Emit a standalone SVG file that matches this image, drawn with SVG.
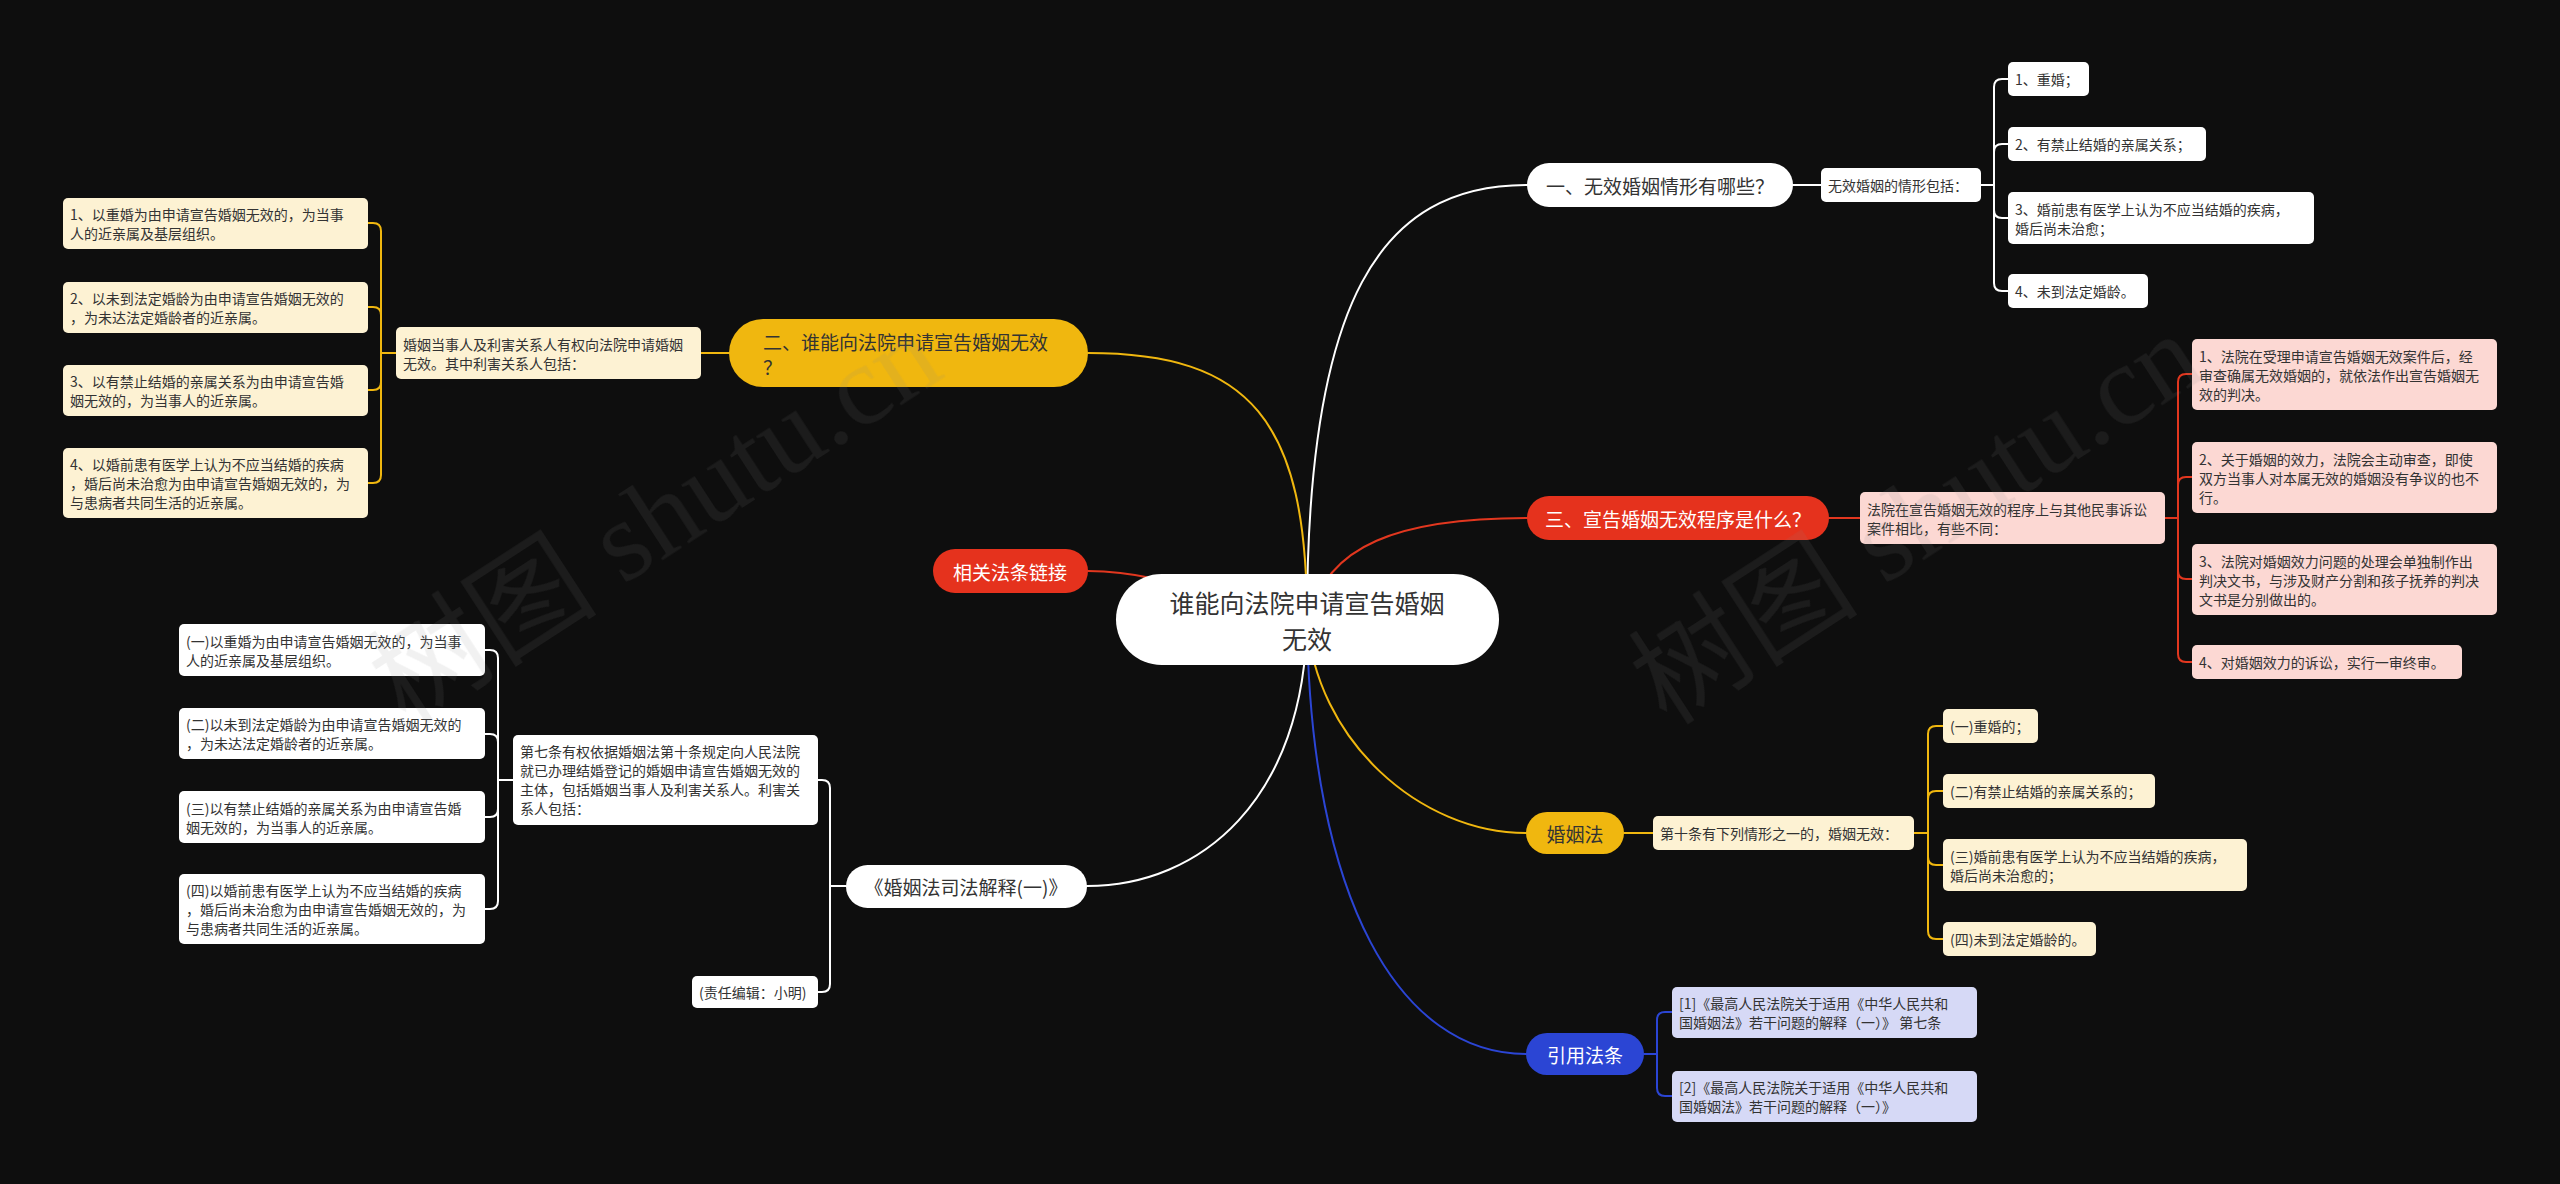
<svg xmlns="http://www.w3.org/2000/svg" width="2560" height="1184" viewBox="0 0 2560 1184">
<style>
.t{font-family:"Noto Sans CJK SC","Noto Sans",sans-serif;}
.s{font-size:14px;fill:#333;dominant-baseline:central;}
.p{font-size:19px;dominant-baseline:central;text-anchor:middle;}
.dk{fill:#333;}
.wt{fill:#ffffff;}
.c{fill:none;stroke-width:2;stroke-linecap:round;}
.cw{stroke:#ffffff;}
.cy{stroke:#f0b70f;}
.cr{stroke:#e2371f;}
.cb{stroke:#2b45d4;}
.nw{fill:#ffffff;}
.ny{fill:#f0b70f;}
.nr{fill:#e5321d;}
.nb{fill:#2b45d4;}
.cream{fill:#fdf2d3;}
.pink{fill:#fcd8d3;}
.lav{fill:#d6d9f6;}
</style>
<rect x="0" y="0" width="2560" height="1184" fill="#0e0e0e"/>

<g id="connectors">
  <!-- main branches -->
  <path class="c cw" d="M1307,619 C1307,300 1380,185 1527,185"/>
  <path class="c cy" d="M1307,619 C1307,420 1250,353 1088,353"/>
  <path class="c cr" d="M1310,619 C1325,545 1400,518 1527,518"/>
  <path class="c cr" d="M1307,619 C1220,600 1160,571 1088,571"/>
  <path class="c cy" d="M1307,619 C1315,740 1420,833 1526,833"/>
  <path class="c cb" d="M1307,619 C1310,900 1400,1054 1526,1054"/>
  <path class="c cw" d="M1307,619 C1305,800 1200,886 1087,886"/>

  <!-- branch 一 -->
  <path class="c cw" d="M1793,185 H1821"/>
  <path class="c cw" d="M1981,185 H1994"/>
  <path class="c cw" d="M1994,185 V87 Q1994,79 2002,79 H2008"/>
  <path class="c cw" d="M1994,185 V152 Q1994,144 2002,144 H2008"/>
  <path class="c cw" d="M1994,185 V210 Q1994,218 2002,218 H2008"/>
  <path class="c cw" d="M1994,185 V283 Q1994,291 2002,291 H2008"/>

  <!-- branch 三 -->
  <path class="c cr" d="M1829,518 H1860"/>
  <path class="c cr" d="M2165,518 H2178"/>
  <path class="c cr" d="M2178,518 V382 Q2178,374 2186,374 H2192"/>
  <path class="c cr" d="M2178,518 V485 Q2178,477 2186,477 H2192"/>
  <path class="c cr" d="M2178,518 V571 Q2178,579 2186,579 H2192"/>
  <path class="c cr" d="M2178,518 V654 Q2178,662 2186,662 H2192"/>

  <!-- branch 婚姻法 -->
  <path class="c cy" d="M1624,833 H1653"/>
  <path class="c cy" d="M1914,833 H1928"/>
  <path class="c cy" d="M1928,833 V734 Q1928,726 1936,726 H1943"/>
  <path class="c cy" d="M1928,833 V799 Q1928,791 1936,791 H1943"/>
  <path class="c cy" d="M1928,833 V857 Q1928,865 1936,865 H1943"/>
  <path class="c cy" d="M1928,833 V931 Q1928,939 1936,939 H1943"/>

  <!-- branch 引用法条 -->
  <path class="c cb" d="M1644,1054 H1657"/>
  <path class="c cb" d="M1657,1054 V1020 Q1657,1012 1665,1012 H1672"/>
  <path class="c cb" d="M1657,1054 V1088 Q1657,1096 1665,1096 H1672"/>

  <!-- branch 二 -->
  <path class="c cy" d="M729,353 H701"/>
  <path class="c cy" d="M396,353 H381"/>
  <path class="c cy" d="M381,353 V231 Q381,223 373,223 H368"/>
  <path class="c cy" d="M381,353 V315 Q381,307 373,307 H368"/>
  <path class="c cy" d="M381,353 V382 Q381,390 373,390 H368"/>
  <path class="c cy" d="M381,353 V475 Q381,483 373,483 H368"/>

  <!-- branch 婚姻法司法解释 -->
  <path class="c cw" d="M846,886 H830"/>
  <path class="c cw" d="M830,886 V788 Q830,780 822,780 H818"/>
  <path class="c cw" d="M830,886 V984 Q830,992 822,992 H818"/>
  <path class="c cw" d="M513,780 H498"/>
  <path class="c cw" d="M498,780 V658 Q498,650 490,650 H485"/>
  <path class="c cw" d="M498,780 V742 Q498,734 490,734 H485"/>
  <path class="c cw" d="M498,780 V809 Q498,817 490,817 H485"/>
  <path class="c cw" d="M498,780 V901 Q498,909 490,909 H485"/>
</g>

<g id="root" class="t">
  <rect class="nw" x="1116" y="574" width="383" height="91" rx="45.5"/>
  <text x="1307" y="602" style="font-size:25px;dominant-baseline:central;text-anchor:middle" class="dk">谁能向法院申请宣告婚姻</text>
  <text x="1307" y="638" style="font-size:25px;dominant-baseline:central;text-anchor:middle" class="dk">无效</text>
</g>

<g id="n-yi" class="t">
  <rect class="nw" x="1527" y="163" width="266" height="44" rx="22"/>
  <text class="p dk" x="1660" y="185">一、无效婚姻情形有哪些？</text>
</g>
<g id="n-yi-0" class="t">
  <rect class="nw" x="1821" y="168" width="160" height="34" rx="5"/>
  <text class="s" x="1828" y="185">无效婚姻的情形包括：</text>
</g>
<g id="n-yi-1" class="t">
  <rect class="nw" x="2008" y="62" width="81" height="34" rx="5"/>
  <text class="s" x="2015" y="79">1、重婚；</text>
</g>
<g id="n-yi-2" class="t">
  <rect class="nw" x="2008" y="127" width="198" height="34" rx="5"/>
  <text class="s" x="2015" y="144">2、有禁止结婚的亲属关系；</text>
</g>
<g id="n-yi-3" class="t">
  <rect class="nw" x="2008" y="192" width="306" height="52" rx="5"/>
  <text class="s" x="2015" y="208.5">3、婚前患有医学上认为不应当结婚的疾病，</text>
  <text class="s" x="2015" y="227.5">婚后尚未治愈；</text>
</g>
<g id="n-yi-4" class="t">
  <rect class="nw" x="2008" y="274" width="140" height="34" rx="5"/>
  <text class="s" x="2015" y="291">4、未到法定婚龄。</text>
</g>

<g id="n-san" class="t">
  <rect class="nr" x="1527" y="496" width="302" height="44" rx="22"/>
  <text class="p wt" x="1678" y="518">三、宣告婚姻无效程序是什么？</text>
</g>
<g id="n-san-0" class="t">
  <rect class="pink" x="1860" y="492" width="305" height="52" rx="5"/>
  <text class="s" x="1867" y="508.5">法院在宣告婚姻无效的程序上与其他民事诉讼</text>
  <text class="s" x="1867" y="527.5">案件相比，有些不同：</text>
</g>
<g id="n-san-1" class="t">
  <rect class="pink" x="2192" y="339" width="305" height="71" rx="5"/>
  <text class="s" x="2199" y="355.5">1、法院在受理申请宣告婚姻无效案件后，经</text>
  <text class="s" x="2199" y="374.5">审查确属无效婚姻的，就依法作出宣告婚姻无</text>
  <text class="s" x="2199" y="393.5">效的判决。</text>
</g>
<g id="n-san-2" class="t">
  <rect class="pink" x="2192" y="442" width="305" height="71" rx="5"/>
  <text class="s" x="2199" y="458.5">2、关于婚姻的效力，法院会主动审查，即使</text>
  <text class="s" x="2199" y="477.5">双方当事人对本属无效的婚姻没有争议的也不</text>
  <text class="s" x="2199" y="496.5">行。</text>
</g>
<g id="n-san-3" class="t">
  <rect class="pink" x="2192" y="544" width="305" height="71" rx="5"/>
  <text class="s" x="2199" y="560.5">3、法院对婚姻效力问题的处理会单独制作出</text>
  <text class="s" x="2199" y="579.5">判决文书，与涉及财产分割和孩子抚养的判决</text>
  <text class="s" x="2199" y="598.5">文书是分别做出的。</text>
</g>
<g id="n-san-4" class="t">
  <rect class="pink" x="2192" y="645" width="270" height="34" rx="5"/>
  <text class="s" x="2199" y="662">4、对婚姻效力的诉讼，实行一审终审。</text>
</g>

<g id="n-hyf" class="t">
  <rect class="ny" x="1526" y="812" width="98" height="42" rx="21"/>
  <text class="p dk" x="1575" y="833">婚姻法</text>
</g>
<g id="n-hyf-0" class="t">
  <rect class="cream" x="1653" y="816" width="261" height="34" rx="5"/>
  <text class="s" x="1660" y="833">第十条有下列情形之一的，婚姻无效：</text>
</g>
<g id="n-hyf-1" class="t">
  <rect class="cream" x="1943" y="709" width="95" height="34" rx="5"/>
  <text class="s" x="1950" y="726">(一)重婚的；</text>
</g>
<g id="n-hyf-2" class="t">
  <rect class="cream" x="1943" y="774" width="212" height="34" rx="5"/>
  <text class="s" x="1950" y="791">(二)有禁止结婚的亲属关系的；</text>
</g>
<g id="n-hyf-3" class="t">
  <rect class="cream" x="1943" y="839" width="304" height="52" rx="5"/>
  <text class="s" x="1950" y="855.5">(三)婚前患有医学上认为不应当结婚的疾病，</text>
  <text class="s" x="1950" y="874.5">婚后尚未治愈的；</text>
</g>
<g id="n-hyf-4" class="t">
  <rect class="cream" x="1943" y="922" width="153" height="34" rx="5"/>
  <text class="s" x="1950" y="939">(四)未到法定婚龄的。</text>
</g>

<g id="n-yyft" class="t">
  <rect class="nb" x="1526" y="1033" width="118" height="42" rx="21"/>
  <text class="p wt" x="1585" y="1054">引用法条</text>
</g>
<g id="n-yyft-1" class="t">
  <rect class="lav" x="1672" y="987" width="305" height="51" rx="5"/>
  <text class="s" x="1679" y="1003">[1]《最高人民法院关于适用《中华人民共和</text>
  <text class="s" x="1679" y="1022">国婚姻法》若干问题的解释（一）》 第七条</text>
</g>
<g id="n-yyft-2" class="t">
  <rect class="lav" x="1672" y="1071" width="305" height="51" rx="5"/>
  <text class="s" x="1679" y="1086.5">[2]《最高人民法院关于适用《中华人民共和</text>
  <text class="s" x="1679" y="1105.5">国婚姻法》若干问题的解释（一）》</text>
</g>

<g id="n-er" class="t">
  <rect class="ny" x="729" y="319" width="359" height="68" rx="34"/>
  <text x="763" y="341" style="font-size:19px;dominant-baseline:central" class="dk">二、谁能向法院申请宣告婚姻无效</text>
  <text x="763" y="366" style="font-size:19px;dominant-baseline:central" class="dk">？</text>
</g>
<g id="n-er-0" class="t">
  <rect class="cream" x="396" y="327" width="305" height="52" rx="5"/>
  <text class="s" x="403" y="343.5">婚姻当事人及利害关系人有权向法院申请婚姻</text>
  <text class="s" x="403" y="362.5">无效。其中利害关系人包括：</text>
</g>
<g id="n-er-1" class="t">
  <rect class="cream" x="63" y="198" width="305" height="51" rx="5"/>
  <text class="s" x="70" y="214">1、以重婚为由申请宣告婚姻无效的，为当事</text>
  <text class="s" x="70" y="233">人的近亲属及基层组织。</text>
</g>
<g id="n-er-2" class="t">
  <rect class="cream" x="63" y="282" width="305" height="51" rx="5"/>
  <text class="s" x="70" y="298">2、以未到法定婚龄为由申请宣告婚姻无效的</text>
  <text class="s" x="70" y="317">，为未达法定婚龄者的近亲属。</text>
</g>
<g id="n-er-3" class="t">
  <rect class="cream" x="63" y="365" width="305" height="51" rx="5"/>
  <text class="s" x="70" y="381">3、以有禁止结婚的亲属关系为由申请宣告婚</text>
  <text class="s" x="70" y="400">姻无效的，为当事人的近亲属。</text>
</g>
<g id="n-er-4" class="t">
  <rect class="cream" x="63" y="448" width="305" height="70" rx="5"/>
  <text class="s" x="70" y="464">4、以婚前患有医学上认为不应当结婚的疾病</text>
  <text class="s" x="70" y="483">，婚后尚未治愈为由申请宣告婚姻无效的，为</text>
  <text class="s" x="70" y="502">与患病者共同生活的近亲属。</text>
</g>

<g id="n-link" class="t">
  <rect class="nr" x="933" y="549" width="155" height="44" rx="22"/>
  <text class="p wt" x="1010" y="571">相关法条链接</text>
</g>

<g id="n-js" class="t">
  <rect class="nw" x="846" y="865" width="241" height="43" rx="21.5"/>
  <text class="p dk" x="966" y="886.5">《婚姻法司法解释(一)》</text>
</g>
<g id="n-js-0" class="t">
  <rect class="nw" x="513" y="735" width="305" height="90" rx="5"/>
  <text class="s" x="520" y="751">第七条有权依据婚姻法第十条规定向人民法院</text>
  <text class="s" x="520" y="770">就已办理结婚登记的婚姻申请宣告婚姻无效的</text>
  <text class="s" x="520" y="789">主体，包括婚姻当事人及利害关系人。利害关</text>
  <text class="s" x="520" y="808">系人包括：</text>
</g>
<g id="n-js-1" class="t">
  <rect class="nw" x="179" y="624" width="306" height="52" rx="5"/>
  <text class="s" x="186" y="640.5">(一)以重婚为由申请宣告婚姻无效的，为当事</text>
  <text class="s" x="186" y="659.5">人的近亲属及基层组织。</text>
</g>
<g id="n-js-2" class="t">
  <rect class="nw" x="179" y="708" width="306" height="51" rx="5"/>
  <text class="s" x="186" y="724">(二)以未到法定婚龄为由申请宣告婚姻无效的</text>
  <text class="s" x="186" y="743">，为未达法定婚龄者的近亲属。</text>
</g>
<g id="n-js-3" class="t">
  <rect class="nw" x="179" y="791" width="306" height="52" rx="5"/>
  <text class="s" x="186" y="807.5">(三)以有禁止结婚的亲属关系为由申请宣告婚</text>
  <text class="s" x="186" y="826.5">姻无效的，为当事人的近亲属。</text>
</g>
<g id="n-js-4" class="t">
  <rect class="nw" x="179" y="874" width="306" height="70" rx="5"/>
  <text class="s" x="186" y="890">(四)以婚前患有医学上认为不应当结婚的疾病</text>
  <text class="s" x="186" y="909">，婚后尚未治愈为由申请宣告婚姻无效的，为</text>
  <text class="s" x="186" y="928">与患病者共同生活的近亲属。</text>
</g>
<g id="n-js-5" class="t">
  <rect class="nw" x="692" y="976" width="126" height="32" rx="5"/>
  <text class="s" x="699" y="992">(责任编辑：小明)</text>
</g>

<g id="watermark" style="font-family:'Liberation Serif','Noto Sans CJK SC',serif;font-size:115px;fill:#8a8a8a;opacity:0.12">
  <text transform="translate(655,518) rotate(-33)" text-anchor="middle" dominant-baseline="central">树图 shutu.cn</text>
  <text transform="translate(1916,518) rotate(-33)" text-anchor="middle" dominant-baseline="central">树图 shutu.cn</text>
</g>
</svg>
